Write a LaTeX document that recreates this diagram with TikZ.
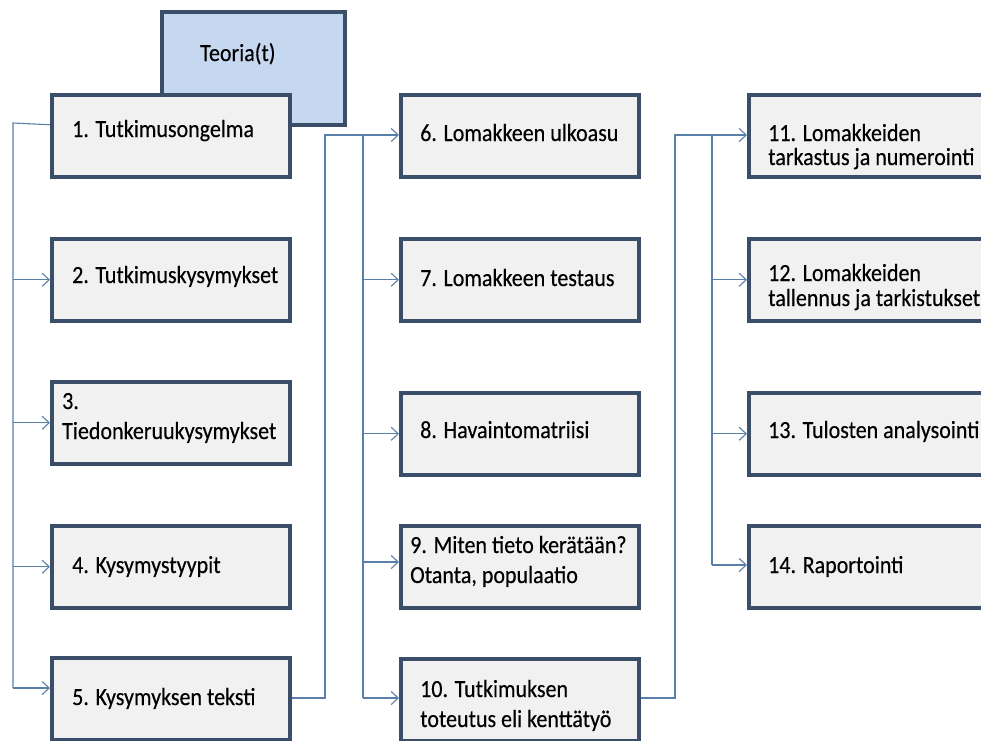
\documentclass[tikz,border=0pt]{standalone}
\usepackage{fontspec}
\setmainfont{Carlito}[FakeBold=0.35]
\usetikzlibrary{arrows.meta,calc}
\definecolor{boxline}{HTML}{3B4E69}
\definecolor{boxfill}{HTML}{F1F1F1}
\definecolor{teofill}{HTML}{C6D8F0}
\definecolor{conn}{HTML}{5A80AA}
\newcommand{\vstr}[1]{\scalebox{1}[1.12]{#1}}
\tikzset{
  boxnode/.style={draw=boxline, line width=3.5pt, fill=boxfill, rectangle, inner sep=0pt, minimum width=238pt, minimum height=82pt},
  teonode/.style={boxnode, fill=teofill, minimum width=183pt, minimum height=113pt},
  txt/.style={anchor=base west, inner sep=0pt, font=\fontsize{22pt}{24pt}\selectfont, text=black},
  conline/.style={draw=conn, line width=1.1pt},
  conarrow/.style={conline, -{Straight Barb[length=7pt,width=13pt,line width=1.1pt]}},
}
\begin{document}
\begin{tikzpicture}[x=1pt,y=-1pt]
\useasboundingbox (0,0) rectangle (981,740);
\fill[white] (0,0) rectangle (981,740);
\begin{scope}
\clip (0,0) rectangle (981,740);
% Teoria box
\node[teonode, anchor=north west] (teo) at (160,10) {};
\node[txt] (teot) at (200,61) {\vstr{Teoria(t)}};
% column 1
\node[boxnode, anchor=north west] (b1) at (50,93) {};
\node[boxnode, anchor=north west] (b2) at (50,237) {};
\node[boxnode, anchor=north west] (b3) at (50,380) {};
\node[boxnode, anchor=north west] (b4) at (50,524) {};
\node[boxnode, anchor=north west] (b5) at (50,656) {};
% column 2
\node[boxnode, anchor=north west] (b6) at (399,93) {};
\node[boxnode, anchor=north west] (b7) at (399,237) {};
\node[boxnode, anchor=north west] (b8) at (399,391) {};
\node[boxnode, anchor=north west] (b9) at (399,524) {};
\node[boxnode, anchor=north west] (b10) at (399,657) {};
% column 3
\node[boxnode, anchor=north west] (b11) at (747,93) {};
\node[boxnode, anchor=north west] (b12) at (747,237) {};
\node[boxnode, anchor=north west] (b13) at (747,391) {};
\node[boxnode, anchor=north west] (b14) at (747,524) {};
% texts
\node[txt] (t1) at (72,137) {\vstr{1. Tutkimusongelma}};
\node[txt] (t2) at (72,283) {\vstr{2. Tutkimuskysymykset}};
\node[txt] (t3a) at (62,409) {\vstr{3.}};
\node[txt] (t3b) at (62,439) {\vstr{Tiedonkeruukysymykset}};
\node[txt] (t4) at (72,573) {\vstr{4. Kysymystyypit}};
\node[txt] (t5) at (72,705) {\vstr{5. Kysymyksen teksti}};
\node[txt] (t6) at (420,141) {\vstr{6. Lomakkeen ulkoasu}};
\node[txt] (t7) at (420,286) {\vstr{7. Lomakkeen testaus}};
\node[txt] (t8) at (420,438) {\vstr{8. Havaintomatriisi}};
\node[txt] (t9a) at (410,553) {\vstr{9. Miten tieto kerätään?}};
\node[txt] (t9b) at (410,583) {\vstr{Otanta, populaatio}};
\node[txt] (t10a) at (420,697) {\vstr{10. Tutkimuksen}};
\node[txt] (t10b) at (420,727) {\vstr{toteutus eli kenttätyö}};
\node[txt] (t11a) at (768,141) {\vstr{11. Lomakkeiden}};
\node[txt] (t11b) at (768,165) {\vstr{tarkastus ja numerointi}};
\node[txt] (t12a) at (768,281) {\vstr{12. Lomakkeiden}};
\node[txt] (t12b) at (768,306) {\vstr{tallennus ja tarkistukset}};
\node[txt] (t13) at (768,438) {\vstr{13. Tulosten analysointi}};
\node[txt] (t14) at (768,573) {\vstr{14. Raportointi}};
% connector coordinates
\coordinate (l1) at (13,123);
\coordinate (l2) at (13,688);
\coordinate (m1) at (325,698);
\coordinate (m2) at (325,135);
\coordinate (m3) at (363,135);
\coordinate (m4) at (363,698);
\coordinate (r1) at (675,698);
\coordinate (r2) at (675,135);
\coordinate (r3) at (712,135);
\coordinate (r4) at (712,565);
% column 1 connectors
\draw[conline] ($(b1.west)+(0,-11)$) -- (l1) -- (l2);
\draw[conarrow] (l1 |- b2.west) -- (b2.west);
\draw[conarrow] (l1 |- b3.west) -- (b3.west);
\draw[conarrow] (l1 |- b4.west) -- (b4.west);
\draw[conarrow] (l2) -- (l2 -| b5.west);
% column 2 connectors
\draw[conarrow] (b5.east |- m1) -- (m1) -- (m2) -- (m2 -| b6.west);
\draw[conline] (m3) -- (m4);
\draw[conarrow] (m3 |- b7.west) -- (b7.west);
\draw[conarrow] (m3 |- b8.west) -- (b8.west);
\draw[conarrow] (m3 |- 0,562) -- (b9.west |- 0,562);
\draw[conarrow] (m4) -- (m4 -| b10.west);
% column 3 connectors
\draw[conarrow] (b10.east |- r1) -- (r1) -- (r2) -- (r2 -| b11.west);
\draw[conline] (r3) -- (r4);
\draw[conarrow] (r3 |- b12.west) -- (b12.west);
\draw[conarrow] (r3 |- b13.west) -- (b13.west);
\draw[conarrow] (r4) -- (r4 -| b14.west);
\end{scope}
\end{tikzpicture}
\end{document}
